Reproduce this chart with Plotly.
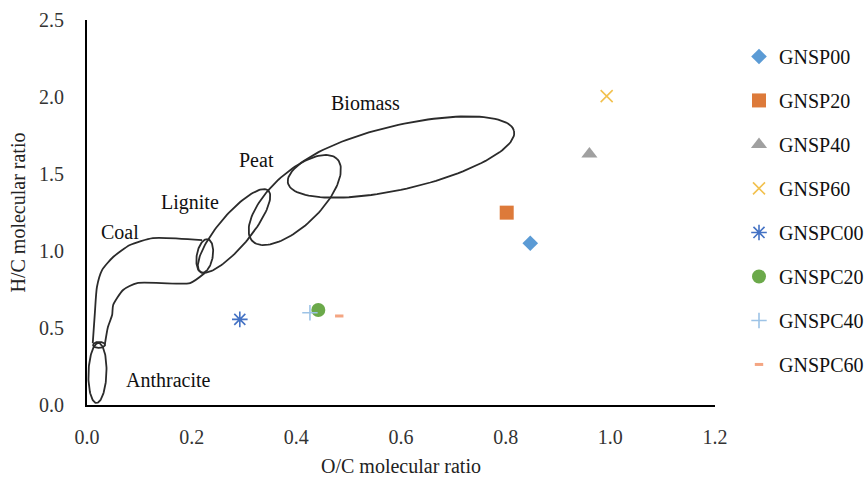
import numpy as np
import plotly.graph_objects as go

# ---- sample series (O/C, H/C molecular ratios) ----
series_names = ["GNSP00", "GNSP20", "GNSP40", "GNSP60",
                "GNSPC00", "GNSPC20", "GNSPC40", "GNSPC60"]
oc_ratio = [0.847, 0.802, 0.960, 0.993, 0.292, 0.442, 0.426, 0.482]
hc_ratio = [1.050, 1.249, 1.630, 2.006, 0.556, 0.617, 0.599, 0.578]

x_ticks = [0.0, 0.2, 0.4, 0.6, 0.8, 1.0, 1.2]
y_ticks = [0.0, 0.5, 1.0, 1.5, 2.0, 2.5]

# ---- Van Krevelen region outlines (data units) ----
coal_top_x = [0.220, 0.126, 0.082, 0.050, 0.029, 0.019, 0.015, 0.011]
coal_top_y = [1.071, 1.084, 1.039, 0.961, 0.877, 0.766, 0.597, 0.403]
coal_bot_x = [0.225, 0.197, 0.096, 0.069, 0.050, 0.048, 0.040, 0.034]
coal_bot_y = [0.857, 0.792, 0.792, 0.747, 0.649, 0.584, 0.506, 0.390]

region_names = ["Biomass", "Peat", "Lignite", "Coal", "Anthracite"]
region_label_x = [0.533, 0.323, 0.197, 0.063, 0.155]
region_label_y = [1.961, 1.591, 1.318, 1.123, 0.162]

# ellipse centres in data units; radii in screen pixels, angle in degrees
ellipse_cx = [0.600, 0.397, 0.281, 0.225, 0.023, 0.020]
ellipse_cy = [1.610, 1.331, 1.130, 0.968, 0.390, 0.208]

# ---- layout geometry ----
W, H = 866, 477
M = dict(l=87, r=151, t=20, b=72)
X_RANGE = [0, 1.2]
Y_RANGE = [0, 2.5]
PX_X = (W - M["l"] - M["r"]) / (X_RANGE[1] - X_RANGE[0])
PX_Y = (H - M["t"] - M["b"]) / (Y_RANGE[1] - Y_RANGE[0])
LEGEND_LEFT_PX = 739

ellipse_shape = [(116, 32, 13), (59, 26, 44), (53, 16, 50),
                 (17, 8, 80), (6, 3, 0), (30, 9, 88)]

FONT = "Liberation Serif, Times New Roman, serif"
FS = 20
OUTLINE = dict(color="#2b2b2b", width=1.8)

marker_styles = [
    dict(symbol="diamond", size=12, color="#5B9BD5"),
    dict(symbol="square", size=14, color="#DD7A3A"),
    dict(symbol="triangle-up", size=14, color="#A0A0A0"),
    dict(symbol="x-thin-open", size=12, color="#F2C14E",
         line=dict(color="#F2C14E", width=1.6)),
    dict(symbol="asterisk-open", size=13, color="#4472C4",
         line=dict(color="#4472C4", width=1.6)),
    dict(symbol="circle", size=14, color="#6BA94A"),
    dict(symbol="cross-thin-open", size=11, color="#9DC3E6",
         line=dict(color="#9DC3E6", width=1.6)),
    dict(symbol="line-ew-open", size=6, color="#F4A582",
         line=dict(color="#F4A582", width=3)),
]


def ellipse(cx, cy, a_px, b_px, ang_deg, n=120):
    t = np.linspace(0, 2 * np.pi, n)
    th = np.radians(ang_deg)
    ex = a_px * np.cos(t)
    ey = b_px * np.sin(t)
    dx = ex * np.cos(th) - ey * np.sin(th)
    dy = ex * np.sin(th) + ey * np.cos(th)
    return cx + dx / PX_X, cy + dy / PX_Y


fig = go.Figure()

# region outlines
for cx, cy, (a, b, ang) in zip(ellipse_cx, ellipse_cy, ellipse_shape):
    ex, ey = ellipse(cx, cy, a, b, ang)
    fig.add_trace(go.Scatter(x=ex, y=ey, mode="lines", line=OUTLINE,
                             showlegend=False, hoverinfo="skip"))
for xs, ys in [(coal_top_x, coal_top_y), (coal_bot_x, coal_bot_y)]:
    fig.add_trace(go.Scatter(x=xs, y=ys, mode="lines",
                             line=dict(OUTLINE, shape="spline", smoothing=0.6),
                             showlegend=False, hoverinfo="skip"))

# samples
for i, (name, x, y, st) in enumerate(zip(series_names, oc_ratio, hc_ratio, marker_styles)):
    fig.add_trace(go.Scatter(x=[x], y=[y], mode="markers", name=name,
                             marker=st, legendgroup=name, legendrank=i + 1))

for name, lx, ly in zip(region_names, region_label_x, region_label_y):
    fig.add_annotation(x=lx, y=ly, text=name, showarrow=False,
                       font=dict(family=FONT, size=FS, color="#111"))

axis_common = dict(showgrid=False, zeroline=False, showline=True,
                   linecolor="black", linewidth=2, ticks="",
                   automargin=False,
                   tickfont=dict(family=FONT, size=FS, color="#333"),
                   tickformat=".1f")

fig.update_layout(
    width=W, height=H, margin=M,
    paper_bgcolor="white", plot_bgcolor="white",
    font=dict(family=FONT, size=FS, color="#222"),
    xaxis=dict(axis_common, range=X_RANGE, tickvals=x_ticks,
               ticklabelstandoff=13,
               title=dict(text="O/C molecular ratio", standoff=12,
                          font=dict(family=FONT, size=FS, color="#222"))),
    yaxis=dict(axis_common, range=Y_RANGE, tickvals=y_ticks,
               ticklabelstandoff=17,
               title=dict(text="H/C molecular ratio", standoff=8,
                          font=dict(family=FONT, size=FS, color="#222"))),
    legend=dict(xref="container", x=LEGEND_LEFT_PX / W,
                yref="paper", y=0.956,
                xanchor="left", yanchor="top",
                traceorder="grouped", tracegroupgap=15,
                font=dict(family=FONT, size=FS, color="#111"),
                bgcolor="rgba(0,0,0,0)"),
    showlegend=True,
)

fig.write_html("out.html")
